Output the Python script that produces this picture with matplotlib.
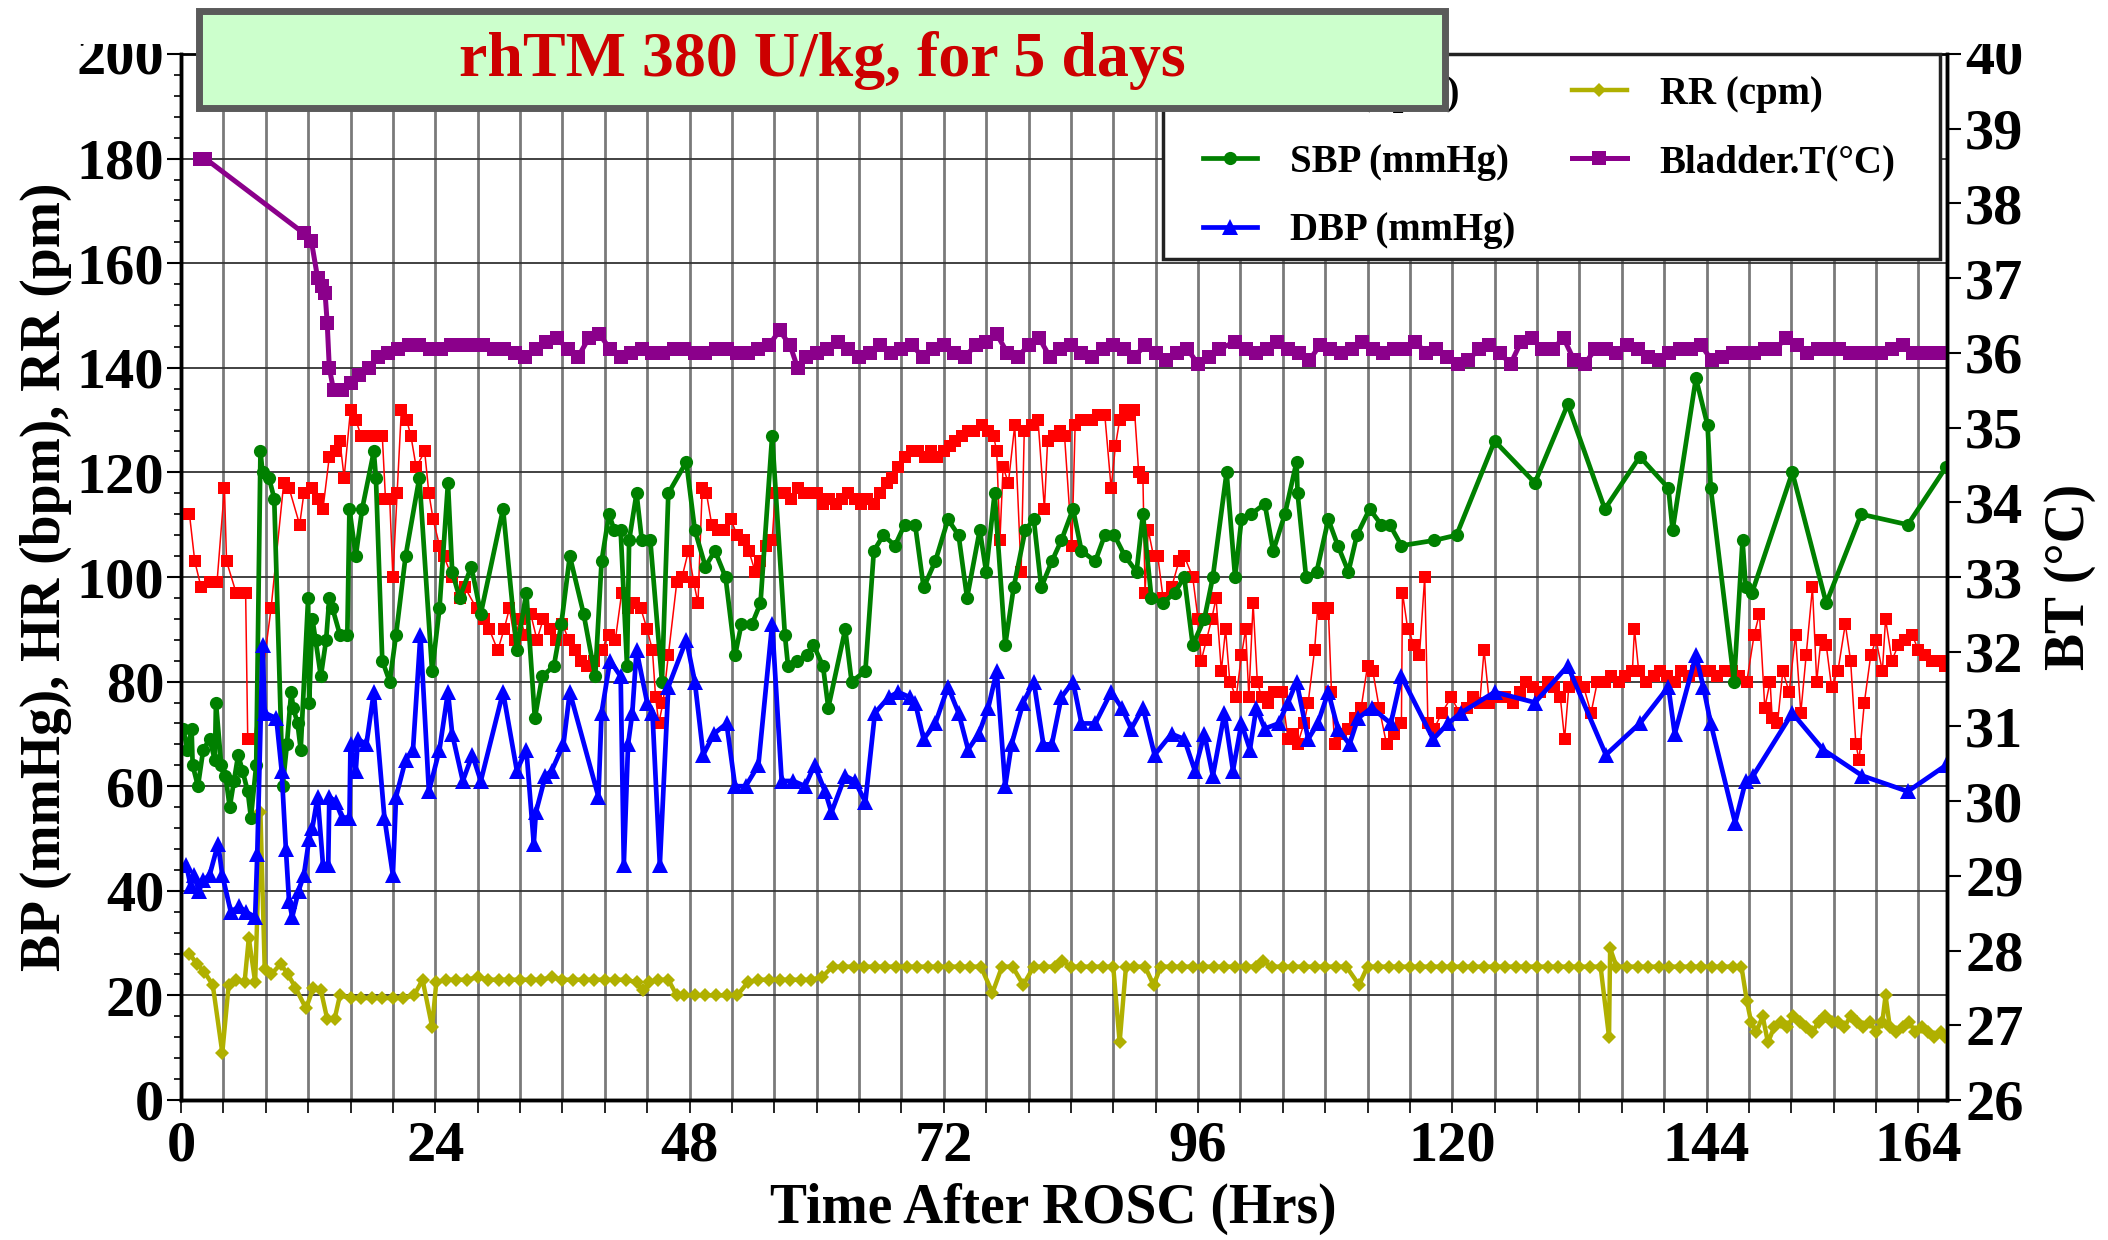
import matplotlib
matplotlib.use("Agg")
import matplotlib.pyplot as plt
from matplotlib.patches import Rectangle
from matplotlib.ticker import MultipleLocator

plt.rcParams["font.family"] = ["Liberation Serif", "DejaVu Serif"]
plt.rcParams["font.weight"] = "bold"

# ---- данные ----
hr_hours = [0.8, 1.3, 1.9, 2.7, 3.4, 4.1, 4.3, 5.2, 6.1, 6.3, 6.9, 8.5, 9.7, 10.2, 11.2, 11.6, 12.4, 12.9,
            13.4, 14.0, 14.6, 15.0, 15.4, 16.0, 16.5, 17.0, 17.8, 18.5, 19.0, 19.3, 19.7, 20.0, 20.4, 20.8,
            21.3, 21.7, 22.2, 23.0, 23.4, 23.8, 24.4, 24.8, 25.6, 26.3, 26.8, 27.9, 28.6, 29.1, 29.9,
            30.5, 31.0, 31.5, 32.0, 32.5, 33.0, 33.6, 34.2, 34.8, 35.4, 36.0, 36.6, 37.2, 37.8, 38.3, 39.0,
            39.7, 40.4, 41.0, 41.6, 42.2, 42.8, 43.4, 44.0, 44.5, 44.8, 45.1, 45.5, 46.0, 46.8, 47.3, 47.9,
            48.4, 48.8, 49.2, 49.6, 50.1, 50.7, 51.3, 51.9, 52.5, 53.1, 53.6, 54.2, 54.7, 55.2, 55.8, 56.1,
            56.6, 57.0, 57.6, 58.2, 58.8, 59.4, 60.0, 60.6, 61.2, 61.8, 62.4, 63.0, 63.6, 64.2, 64.8, 65.4,
            66.0, 66.6, 67.1, 67.7, 68.3, 69.0, 69.6, 70.2, 70.8, 71.4, 72.0, 72.6, 73.1, 73.7, 74.3, 74.9,
            75.6, 76.2, 76.7, 77.0, 77.3, 77.6, 78.1, 78.7, 79.3, 79.6, 80.3, 80.9, 81.5, 81.8, 82.4, 83.0,
            83.4, 84.1, 84.4, 85.0, 85.5, 86.0, 86.6, 87.2, 87.8, 88.2, 88.6, 89.1, 89.6, 90.0, 90.4, 90.8,
            91.0, 91.3, 91.8, 92.2, 92.7, 93.5, 94.2, 94.7, 95.5, 96.0, 96.3, 96.8, 97.3, 97.7, 98.2, 98.6,
            99.0, 99.6, 100.1, 100.5, 100.8, 101.2, 101.6, 102.0, 102.6, 103.2, 103.9, 104.5, 105.0, 105.4,
            106.0, 106.4, 107.0, 107.3, 107.9, 108.3, 108.6, 108.9, 109.5, 110.2, 110.8, 111.4, 112.0, 112.5,
            113.1, 113.8, 114.5, 115.2, 115.3, 115.8, 116.4, 116.9, 117.4, 117.7, 118.3, 119.0, 119.9, 120.7,
            121.4, 122.0, 122.6, 123.0, 123.5, 124.2, 125.0, 125.7, 126.4, 127.0, 127.6, 128.3, 129.0, 129.6,
            130.2, 130.6, 131.0, 131.7, 132.4, 133.1, 133.7, 134.4, 135.0, 135.7, 136.3, 137.0, 137.2, 137.6,
            138.3, 139.0, 139.6, 140.3, 141.0, 141.6, 142.3, 143.0, 143.6, 144.3, 145.0, 145.7, 146.4, 147.1,
            147.8, 148.5, 149.0, 149.5, 150.0, 150.2, 150.7, 151.2, 151.8, 152.4, 152.9, 153.4, 154.0, 154.4,
            154.8, 155.3, 155.8, 156.4, 157.1, 157.6, 158.1, 158.4, 158.9, 159.5, 160.0, 160.6, 160.9, 161.5,
            162.1, 162.7, 163.4, 164.0, 164.6, 165.3, 166.0, 166.5]
hr_bpm = [112, 103, 98, 99, 99, 117, 103, 97, 97, 69, 69, 94, 118, 117, 110, 116, 117, 115,
          113, 123, 124, 126, 119, 132, 130, 127, 127, 127, 127, 115, 115, 100, 116, 132,
          130, 127, 121, 124, 116, 111, 106, 104, 100, 96, 98, 94, 92, 90, 86,
          90, 94, 88, 92, 89, 93, 88, 92, 90, 88, 91, 88, 86, 84, 83, 84,
          86, 89, 88, 97, 94, 95, 94, 90, 86, 77, 72, 76, 85, 99, 100, 105,
          99, 95, 117, 116, 110, 109, 109, 111, 108, 107, 105, 101, 103, 106, 107, 116,
          116, 116, 115, 117, 116, 116, 116, 114, 115, 114, 115, 116, 115, 114, 115, 114,
          116, 118, 119, 121, 123, 124, 124, 123, 124, 123, 124, 125, 126, 127, 128, 128,
          129, 128, 127, 124, 107, 121, 118, 129, 101, 128, 129, 130, 113, 126, 127, 128,
          127, 106, 129, 130, 130, 130, 131, 131, 117, 125, 130, 132, 131, 132, 120, 119,
          97, 109, 104, 104, 96, 98, 103, 104, 100, 92, 84, 88, 92, 96, 82, 90,
          80, 77, 85, 90, 77, 95, 80, 77, 76, 78, 78, 69, 70, 68,
          72, 76, 86, 94, 93, 94, 78, 68, 70, 71, 73, 75, 83, 82,
          75, 68, 70, 72, 97, 90, 87, 85, 100, 72, 71, 74, 77, 74,
          75, 77, 76, 86, 76, 77, 77, 76, 78, 80, 79, 78, 80, 79,
          77, 69, 79, 80, 79, 74, 80, 80, 81, 80, 81, 82, 90, 82,
          80, 81, 82, 81, 80, 82, 81, 82, 82, 82, 81, 82, 82, 81,
          80, 89, 93, 75, 80, 73, 72, 82, 78, 89, 74, 85, 98, 80,
          88, 87, 79, 82, 91, 84, 68, 65, 76, 85, 88, 82, 92, 84,
          87, 88, 89, 86, 85, 84, 84, 83]

sbp_hours = [0.2, 0.6, 1.0, 1.1, 1.6, 2.1, 2.7, 3.2, 3.3, 3.8, 4.2, 4.6, 5.0, 5.4, 5.8, 6.3, 6.6, 7.1, 7.5,
             7.7, 8.3, 8.8, 9.6, 10.0, 10.4, 10.6, 11.0, 11.3, 12.0, 12.1, 12.4, 12.7, 13.2, 13.7, 14.0,
             14.3, 15.0, 15.7, 15.9, 16.5, 17.1, 18.2, 18.4, 19.0, 19.7, 20.3, 21.2, 22.5, 23.7, 24.4,
             25.2, 25.6, 26.3, 27.4, 28.3, 30.4, 31.7, 32.6, 33.4, 34.1, 35.2, 35.9, 36.7, 38.0, 39.1,
             39.7, 40.4, 40.9, 41.5, 42.1, 42.3, 43.0, 43.5, 44.3, 45.4, 46.0, 47.7, 48.5, 49.5, 50.4,
             51.4, 52.3, 52.9, 53.9, 54.7, 55.8, 57.0, 57.3, 58.1, 59.1, 59.7, 60.6, 61.1, 62.7, 63.3,
             64.6, 65.4, 66.3, 67.4, 68.3, 69.3, 70.1, 71.2, 72.4, 73.4, 74.2, 75.4, 76.0, 76.8, 77.8,
             78.6, 79.7, 80.5, 81.2, 82.2, 83.1, 84.2, 85.0, 86.3, 87.2, 88.1, 89.1, 90.2, 90.8, 91.6,
             92.7, 93.8, 94.7, 95.5, 96.6, 97.4, 98.7, 99.5, 100.1, 101.0, 102.3, 103.1, 104.2, 105.3,
             105.4, 106.2, 107.2, 108.3, 109.2, 110.2, 111.0, 112.2, 113.3, 114.1, 115.2, 118.3, 120.4,
             124.0, 127.8, 130.9, 134.4, 137.7, 140.4, 140.8, 143.0, 144.1, 144.4, 146.6, 147.4, 147.7,
             148.3, 152.1, 155.3, 158.6, 163.0, 166.6]
sbp_mmhg = [71, 67, 71, 64, 60, 67, 69, 65, 76, 64, 62, 56, 61, 66, 63, 59, 54, 64, 124,
            120, 119, 115, 60, 68, 78, 75, 72, 67, 96, 76, 92, 88, 81, 88, 96,
            94, 89, 89, 113, 104, 113, 124, 119, 84, 80, 89, 104, 119, 82, 94,
            118, 101, 96, 102, 93, 113, 86, 97, 73, 81, 83, 91, 104, 93, 81,
            103, 112, 109, 109, 83, 107, 116, 107, 107, 80, 116, 122, 109, 102, 105,
            100, 85, 91, 91, 95, 127, 89, 83, 84, 85, 87, 83, 75, 90, 80,
            82, 105, 108, 106, 110, 110, 98, 103, 111, 108, 96, 109, 101, 116, 87,
            98, 109, 111, 98, 103, 107, 113, 105, 103, 108, 108, 104, 101, 112, 96,
            95, 97, 100, 87, 92, 100, 120, 100, 111, 112, 114, 105, 112, 122,
            116, 100, 101, 111, 106, 101, 108, 113, 110, 110, 106, 107, 108,
            126, 118, 133, 113, 123, 117, 109, 138, 129, 117, 80, 107, 98,
            97, 120, 95, 112, 110, 121]

dbp_hours = [0.5, 0.9, 1.2, 1.7, 2.1, 2.7, 3.5, 3.9, 4.7, 5.5, 6.1, 7.0, 7.2, 7.7, 7.9, 9.0, 9.5, 9.9, 10.2,
             10.5, 11.1, 11.6, 12.1, 12.4, 12.9, 13.4, 13.9, 14.0, 14.6, 15.2, 15.9, 16.0, 16.5, 16.7,
             17.5, 18.2, 19.2, 20.0, 20.3, 21.2, 21.9, 22.6, 23.4, 24.4, 25.2, 25.6, 26.6, 27.5, 28.3,
             30.4, 31.7, 32.6, 33.3, 33.5, 34.4, 35.0, 36.1, 36.7, 39.4, 39.7, 40.5, 41.5, 41.8, 42.2,
             42.6, 43.0, 44.0, 44.5, 45.2, 46.0, 47.7, 48.5, 49.3, 50.3, 51.5, 52.3, 53.3, 54.5, 55.8,
             56.7, 57.8, 58.9, 59.8, 60.8, 61.4, 62.7, 63.6, 64.6, 65.5, 66.8, 67.7, 68.8, 69.3, 70.1,
             71.2, 72.4, 73.4, 74.3, 75.3, 76.2, 77.0, 77.8, 78.4, 79.5, 80.5, 81.4, 82.2, 83.1, 84.2,
             85.0, 86.3, 87.8, 88.8, 89.7, 90.8, 91.9, 93.5, 94.7, 95.7, 96.6, 97.4, 98.5, 99.3, 100.1,
             100.9, 101.5, 102.3, 103.6, 104.5, 105.3, 106.4, 107.3, 108.3, 109.2, 110.3, 111.1, 112.4,
             114.2, 115.2, 118.2, 119.6, 120.8, 124.0, 127.8, 130.9, 134.5, 137.7, 140.4, 141.0, 143.0,
             143.7, 144.4, 146.7, 147.7, 148.4, 152.1, 155.0, 158.7, 163.0, 166.6]
dbp_mmhg = [45, 41, 43, 40, 42, 43, 49, 43, 36, 37, 36, 35, 47, 87, 74, 73, 63, 48, 38,
            35, 40, 43, 50, 52, 58, 45, 45, 58, 57, 54, 54, 68, 63, 69,
            68, 78, 54, 43, 58, 65, 67, 89, 59, 67, 78, 70, 61, 66, 61,
            78, 63, 67, 49, 55, 62, 63, 68, 78, 58, 74, 84, 81, 45, 68,
            74, 86, 76, 74, 45, 79, 88, 80, 66, 70, 72, 60, 60, 64, 91,
            61, 61, 60, 64, 59, 55, 62, 61, 57, 74, 77, 78, 77, 76, 69,
            72, 79, 74, 67, 70, 75, 82, 60, 68, 76, 80, 68, 68, 77, 80,
            72, 72, 78, 75, 71, 75, 66, 70, 69, 63, 70, 62, 74, 63, 72,
            67, 75, 71, 72, 76, 80, 69, 72, 78, 71, 68, 73, 75,
            72, 81, 69, 72, 74, 78, 76, 83, 66, 72, 79, 70, 85,
            79, 72, 53, 61, 62, 74, 67, 62, 59, 64]

rr_hours = [0.8, 1.5, 2.2, 3.0, 3.9, 4.5, 5.2, 6.0, 6.4, 7.0, 7.5, 7.9, 8.5, 9.4, 10.1, 10.8, 11.8, 12.5,
            13.2, 13.8, 14.5, 15.0, 16.0, 17.0, 18.0, 19.0, 20.0, 21.0, 22.0, 22.8, 23.7, 24.1, 25.0,
            26.0, 27.0, 28.0, 29.0, 30.0, 31.0, 32.0, 33.0, 34.0, 35.0, 36.0, 37.0, 38.0, 39.0, 40.0,
            41.0, 42.0, 43.0, 43.6, 44.2, 45.0, 46.0, 46.8, 47.5, 48.5, 49.5, 50.5, 51.5, 52.5, 53.5,
            54.5, 55.5, 56.5, 57.5, 58.5, 59.5, 60.5, 61.5, 62.5, 63.5, 64.5, 65.5, 66.5, 67.5, 68.5,
            69.5, 70.5, 71.5, 72.5, 73.5, 74.5, 75.5, 76.6, 77.5, 78.5, 79.5, 80.5, 81.5, 82.5, 83.2,
            84.0, 85.0, 86.0, 87.0, 88.0, 88.6, 89.2, 90.0, 91.0, 91.8, 92.5, 93.5, 94.5, 95.5, 96.5,
            97.5, 98.5, 99.5, 100.5, 101.5, 102.1, 103.0, 104.0, 105.0, 106.0, 107.0, 108.0, 109.0,
            110.0, 111.2, 112.0, 113.0, 114.0, 115.0, 116.0, 117.0, 118.0, 119.0, 120.0, 121.0, 122.0,
            123.0, 124.0, 125.0, 126.0, 127.0, 128.0, 129.0, 130.0, 131.0, 132.0, 133.0, 134.0, 134.8,
            134.9, 135.5, 136.5, 137.5, 138.5, 139.5, 140.5, 141.5, 142.5, 143.5, 144.5, 145.5, 146.5,
            147.3, 147.8, 148.2, 148.7, 149.3, 149.8, 150.4, 151.0, 151.6, 152.2, 152.8, 153.4, 154.0,
            154.6, 155.2, 155.8, 156.4, 157.0, 157.6, 158.2, 158.8, 159.4, 160.0, 160.6, 160.9, 161.3,
            161.9, 162.5, 163.1, 163.7, 164.3, 164.9, 165.5, 166.1, 166.5]
rr_cpm = [28, 26, 24.5, 22, 9, 22, 23, 22.5, 31, 22.5, 55, 25, 24, 26, 24, 21.5, 17.5, 21.5,
          21, 15.5, 15.5, 20, 19.5, 19.5, 19.5, 19.5, 19.5, 19.5, 20, 23, 14, 22.5, 23,
          23, 23, 23.5, 23, 23, 23, 23, 23, 23, 23.5, 23, 23, 23, 23, 23,
          23, 23, 22.5, 21, 22.5, 23, 23, 20, 20, 20, 20, 20, 20, 20, 22.5,
          23, 23, 23, 23, 23, 23, 23.5, 25.5, 25.5, 25.5, 25.5, 25.5, 25.5, 25.5, 25.5,
          25.5, 25.5, 25.5, 25.5, 25.5, 25.5, 25.5, 20.5, 25.5, 25.5, 22, 25.5, 25.5, 25.5, 26.5,
          25.5, 25.5, 25.5, 25.5, 25.5, 11, 25.5, 25.5, 25.5, 22, 25.5, 25.5, 25.5, 25.5, 25.5,
          25.5, 25.5, 25.5, 25.5, 25.5, 26.5, 25.5, 25.5, 25.5, 25.5, 25.5, 25.5, 25.5,
          25.5, 22, 25.5, 25.5, 25.5, 25.5, 25.5, 25.5, 25.5, 25.5, 25.5, 25.5, 25.5,
          25.5, 25.5, 25.5, 25.5, 25.5, 25.5, 25.5, 25.5, 25.5, 25.5, 25.5, 25.5, 12,
          29, 25.5, 25.5, 25.5, 25.5, 25.5, 25.5, 25.5, 25.5, 25.5, 25.5, 25.5, 25.5,
          25.5, 19, 15, 13, 16, 11, 14, 15, 14, 16, 15, 14, 13,
          15, 16, 15, 15, 14, 16, 15, 14, 15, 13, 15, 20, 14,
          13, 14, 15, 13, 14, 13, 12, 13, 12]

bt_hours = [1.8, 2.3, 11.6, 12.3, 12.9, 13.3, 13.6, 13.8, 14.0, 14.4, 15.2, 16.0, 16.8, 17.7, 18.6, 19.5,
            20.5, 21.5, 22.5, 23.5, 24.5, 25.5, 26.5, 27.5, 28.5, 29.5, 30.5, 31.5, 32.5, 33.5, 34.5,
            35.5, 36.5, 37.5, 38.5, 39.5, 40.5, 41.5, 42.5, 43.5, 44.5, 45.5, 46.5, 47.5, 48.5, 49.5,
            50.5, 51.5, 52.5, 53.5, 54.5, 55.5, 56.5, 57.5, 58.2, 59.0, 60.0, 61.0, 62.0, 63.0, 64.0,
            65.0, 66.0, 67.0, 68.0, 69.0, 70.0, 71.0, 72.0, 73.0, 74.0, 75.0, 76.0, 77.0, 78.0, 79.0,
            80.0, 81.0, 82.0, 83.0, 84.0, 85.0, 86.0, 87.0, 88.0, 89.0, 90.0, 91.0, 92.0, 93.0, 94.0,
            95.0, 96.0, 97.0, 98.0, 99.5, 100.5, 101.5, 102.5, 103.5, 104.5, 105.5, 106.5, 107.5, 108.5,
            109.5, 110.5, 111.5, 112.5, 113.5, 114.5, 115.5, 116.5, 117.5, 118.5, 119.5, 120.5, 121.5,
            122.5, 123.5, 124.5, 125.5, 126.5, 127.5, 128.5, 129.5, 130.5, 131.5, 132.5, 133.5, 134.5,
            135.5, 136.5, 137.5, 138.5, 139.5, 140.5, 141.5, 142.5, 143.5, 144.5, 145.5, 146.5, 147.5,
            148.5, 149.5, 150.5, 151.5, 152.5, 153.5, 154.5, 155.5, 156.5, 157.5, 158.5, 159.5, 160.5,
            161.5, 162.5, 163.5, 164.5, 165.5, 166.5]
bt_celsius = [38.6, 38.6, 37.6, 37.5, 37.0, 36.9, 36.8, 36.4, 35.8, 35.5, 35.5, 35.6, 35.7, 35.8, 35.94, 36.0,
              36.05, 36.1, 36.1, 36.05, 36.05, 36.1, 36.1, 36.1, 36.1, 36.05, 36.05, 36.0, 35.95, 36.05, 36.15,
              36.2, 36.05, 35.95, 36.2, 36.25, 36.05, 35.95, 36.0, 36.05, 36.0, 36.0, 36.05, 36.05, 36.0, 36.0,
              36.05, 36.05, 36.0, 36.0, 36.05, 36.1, 36.3, 36.1, 35.8, 35.95, 36.0, 36.05, 36.15, 36.05, 35.95,
              36.0, 36.1, 36.0, 36.05, 36.1, 35.95, 36.05, 36.1, 36.0, 35.95, 36.1, 36.15, 36.25, 36.0, 35.95,
              36.1, 36.2, 35.95, 36.05, 36.1, 36.0, 35.95, 36.05, 36.1, 36.05, 35.95, 36.1, 36.0, 35.9, 36.0,
              36.05, 35.85, 35.95, 36.05, 36.15, 36.05, 36.0, 36.05, 36.15, 36.05, 36.0, 35.9, 36.1, 36.05,
              36.0, 36.05, 36.15, 36.05, 36.0, 36.05, 36.05, 36.15, 36.0, 36.05, 35.95, 35.85, 35.9,
              36.05, 36.1, 36.0, 35.85, 36.15, 36.2, 36.05, 36.05, 36.2, 35.9, 35.85, 36.05, 36.05,
              36.0, 36.1, 36.05, 35.95, 35.9, 36.0, 36.05, 36.05, 36.1, 35.9, 35.95, 36.0, 36.0,
              36.0, 36.05, 36.05, 36.2, 36.1, 36.0, 36.05, 36.05, 36.05, 36.0, 36.0, 36.0, 36.0,
              36.05, 36.1, 36.0, 36.0, 36.0, 36.0]

x_ticks = [0, 24, 48, 72, 96, 120, 144, 164]
title_text = "rhTM 380 U/kg, for 5 days"

# ---- построение ----
fig = plt.figure(figsize=(21.08, 12.4), dpi=100, facecolor="white")
ax = fig.add_axes([181 / 2108, 1 - 1100 / 1240, (1947 - 181) / 2108, (1100 - 54) / 1240])
ax2 = ax.twinx()

h_hr, = ax.plot(hr_hours, hr_bpm, color="#ff0000", lw=1.1, marker="s", ms=9, mew=0, label="HR (bpm)", zorder=3)
h_rr, = ax.plot(rr_hours, rr_cpm, color="#b0b000", lw=3.2, marker="D", ms=7, mew=0, label="RR (cpm)", zorder=4)
h_sbp, = ax.plot(sbp_hours, sbp_mmhg, color="#008000", lw=3.4, marker="o", ms=9.5, mew=0, label="SBP (mmHg)", zorder=5)
h_dbp, = ax.plot(dbp_hours, dbp_mmhg, color="#0000ff", lw=3.4, marker="^", ms=11, mew=0, label="DBP (mmHg)", zorder=6)
h_bt, = ax2.plot(bt_hours, bt_celsius, color="#8b008b", lw=3.6, marker="s", ms=10, mew=0, label="Bladder.T(\u00b0C)")

ax.set_xlim(0, 166.7)
ax.set_ylim(0, 200)
ax2.set_ylim(26, 40)

ax.set_xticks(x_ticks)
ax.xaxis.set_minor_locator(MultipleLocator(4))
ax.yaxis.set_major_locator(MultipleLocator(20))
ax.yaxis.set_minor_locator(MultipleLocator(4))
ax2.yaxis.set_major_locator(MultipleLocator(1))

ax.grid(axis="x", which="both", color="#7a7a7a", lw=2.0, zorder=0)
ax.grid(axis="y", which="major", color="#333333", lw=1.3, zorder=0)
ax.set_axisbelow(True)

ax.tick_params(axis="y", which="major", length=10, width=1.5, direction="out", labelsize=42, pad=2)
ax.tick_params(axis="y", which="minor", length=5, width=1.2, direction="out")
ax.tick_params(axis="x", which="both", length=9, width=1.2, direction="out", labelsize=42, pad=6)
ax2.tick_params(axis="y", length=10, width=1.5, direction="out", labelsize=42, pad=3)

for spine in ("left", "bottom", "right"):
    ax.spines[spine].set_linewidth(2.5)
    ax2.spines[spine].set_linewidth(2.5)
ax.spines["top"].set_linewidth(2)

ax.set_xlabel("Time After ROSC (Hrs)", fontsize=40, fontweight="bold")
ax.set_ylabel("BP (mmHg), HR (bpm), RR (pm)", fontsize=40, fontweight="bold")
ax2.set_ylabel("BT (\u00b0C)", fontsize=40, fontweight="bold")
ax.xaxis.set_label_coords(0.494, -0.079)
ax.yaxis.label.set_verticalalignment("center")
ax.yaxis.set_label_coords(-0.0766, 0.5)
ax2.yaxis.label.set_verticalalignment("center")
ax2.yaxis.set_label_coords(1.0695, 0.5)

# рамка легенды отдельно, чтобы отступы совпадали с оригиналом
fig.add_artist(Rectangle((1163 / 2108, 1 - 259 / 1240), (1940 - 1163) / 2108, (259 - 54) / 1240,
                         transform=fig.transFigure, facecolor="white", edgecolor="#222222",
                         lw=2.5, zorder=3))
leg = fig.legend(handles=[h_hr, h_sbp, h_dbp, h_rr, h_bt], ncol=2, loc="upper left",
                 bbox_to_anchor=(1203 / 2108, 1 - 76 / 1240), bbox_transform=fig.transFigure,
                 borderaxespad=0, borderpad=0, fontsize=28, handlelength=1.4, handletextpad=0.85,
                 columnspacing=1.45, labelspacing=0.8, frameon=False)
leg.set_zorder(3.5)
for text in leg.get_texts():
    text.set_fontweight("bold")

# белая полоса сверху, как на исходной картинке
fig.add_artist(Rectangle((0, 1 - 44 / 1240), 1, 44 / 1240, transform=fig.transFigure,
                         facecolor="white", edgecolor="none", zorder=4))
# плашка с заголовком
fig.add_artist(Rectangle((199 / 2108, 1 - 108 / 1240), (1445 - 199) / 2108, (108 - 11) / 1240,
                         transform=fig.transFigure, facecolor="#ccffcc", edgecolor="#5a5a5a",
                         lw=5, zorder=5))
fig.text(822 / 2108, 1 - 60 / 1240, title_text, color="#cc0000", fontsize=46, fontweight="bold",
         ha="center", va="center", zorder=6)

fig.savefig("out.png", dpi=100, facecolor="white")
